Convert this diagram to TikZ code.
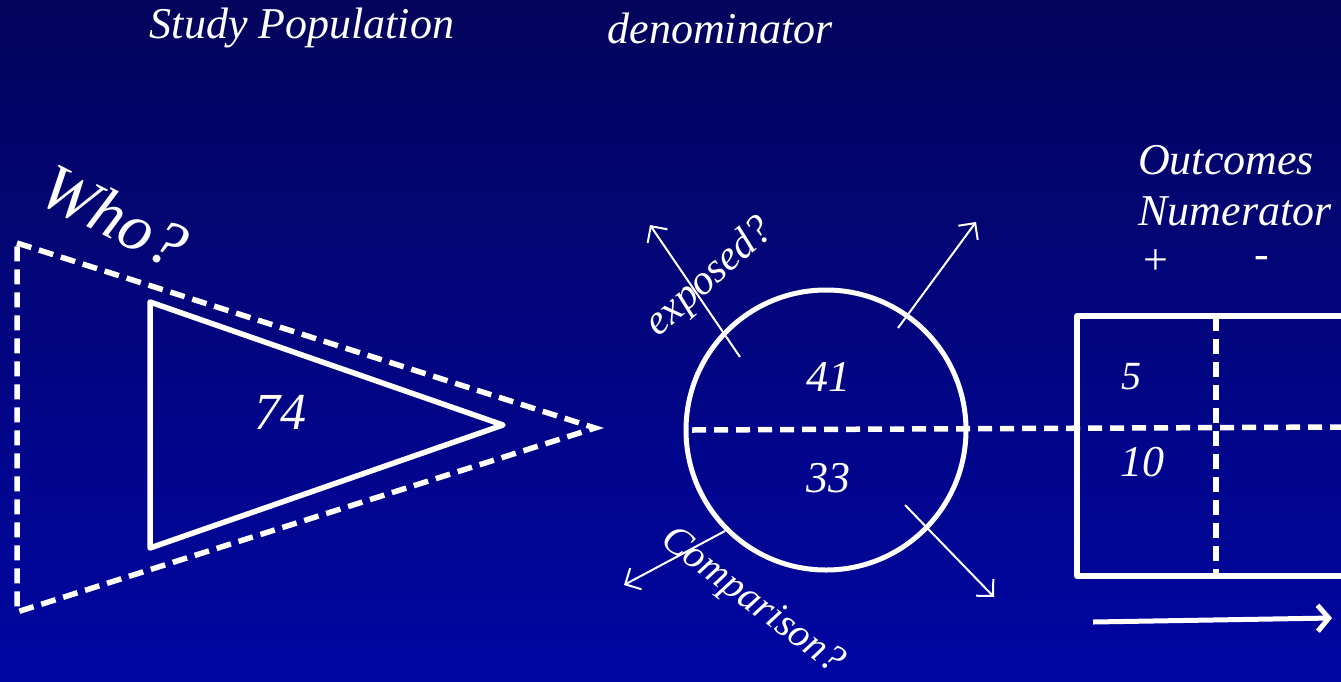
\documentclass[tikz,border=0pt]{standalone}
\usepackage{fontspec}
\setmainfont{Liberation Serif}[ItalicFont={Liberation Serif Italic}]
\usetikzlibrary{arrows.meta}
\definecolor{skytop}{RGB}{4,4,92}
\definecolor{skybottom}{RGB}{0,6,162}
\tikzset{
  label36/.style={text=white, inner sep=0pt, font=\itshape\fontsize{44}{48}\selectfont},
  number40/.style={text=white, inner sep=0pt, font=\itshape\fontsize{44}{48}\selectfont},
  dashline/.style={white, line width=5.5pt, dash pattern=on 15pt off 8pt},
  solidline/.style={white, line width=5.5pt, line join=round},
  thinarrow/.style={white, line width=2pt, -{Straight Barb[length=12pt,width=24pt]}},
  thickarrow/.style={white, line width=5pt, -{Straight Barb[length=11pt,width=26pt]}},
}
\begin{document}
\begin{tikzpicture}[x=1pt,y=-1pt]
  % Background
  \shade[top color=skytop, bottom color=skybottom] (0,0) rectangle (1341,681);
  \useasboundingbox (0,0) rectangle (1341,681);
  \clip (0,0) rectangle (1341,681);
  % Headings
  \node[label36] (study) at (302,28) {Study Population};
  \node[label36] (denom) at (720,28) {denominator};
  % Study population triangles
  \draw[dashline] (17,243) -- (595,428) -- (17,612) -- cycle;
  \draw[solidline] (150,302) -- (503,425) -- (150,548) -- cycle;
  \node[number40, font=\itshape\fontsize{52}{56}\selectfont] (total) at (280,412) {74};
  \node[text=white, inner sep=0pt, rotate=-27,
    font=\itshape\fontsize{66}{70}\selectfont] (who) at (114,216) {Who?};
  % Exposure circle
  \node[draw=white, line width=5pt, circle, minimum size=280pt, inner sep=0pt]
    (pop) at (826,430) {};
  \node[number40] (exp) at (828,377) {41};
  \node[number40] (cmp) at (828,478) {33};
  % Split line running through the table
  \coordinate (splitA) at (692,430);
  \coordinate (splitB) at (1341,427);
  \draw[dashline, dash pattern=on 14pt off 8pt] (splitA) -- (splitB);
  % Arrows out of the circle
  \coordinate (ulS) at (740,357);  \coordinate (ulE) at (650,225);
  \coordinate (urS) at (898,328);  \coordinate (urE) at (976,222);
  \coordinate (llS) at (725,531);  \coordinate (llE) at (624,585);
  \coordinate (lrS) at (905,505);  \coordinate (lrE) at (994,597);
  \draw[thinarrow] (ulS) -- (ulE);
  \draw[thinarrow] (urS) -- (urE);
  \draw[thinarrow] (llS) -- (llE);
  \draw[thinarrow] (lrS) -- (lrE);
  \node[label36, font=\itshape\fontsize{42}{46}\selectfont, rotate=42]
    (exposed) at (710,278) {exposed?};
  \node[label36, font=\itshape\fontsize{40}{44}\selectfont, rotate=-37]
    (comparison) at (752,602) {Comparison?};
  % Outcome table
  \draw[solidline] (1077,316) rectangle (1400,576);
  \coordinate (colT) at (1216,316);
  \coordinate (colB) at (1216,576);
  \draw[dashline] (colT) -- (colB);
  \node[number40, font=\itshape\fontsize{40}{44}\selectfont] (five) at (1131,377) {5};
  \node[number40] (ten) at (1142,462) {10};
  \node[label36] (outcomes) at (1226,160) {Outcomes};
  \node[label36] (numer) at (1235,211) {Numerator};
  \node[label36, font=\fontsize{44}{48}\selectfont] (plus) at (1156,262) {+};
  \node[label36, font=\fontsize{44}{48}\selectfont] (minus) at (1262,262) {-};
  % Time arrow
  \coordinate (timeS) at (1093,622);
  \coordinate (timeE) at (1332,618);
  \draw[thickarrow] (timeS) -- (timeE);
\end{tikzpicture}
\end{document}
